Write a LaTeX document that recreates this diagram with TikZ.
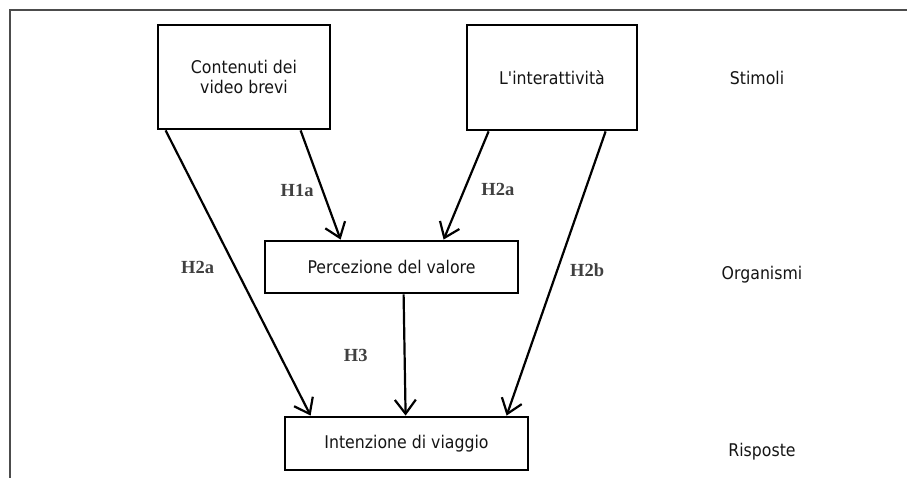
\documentclass[tikz,border=0pt]{standalone}
\usepackage{fontspec}
\usepackage{tikz}
\usetikzlibrary{arrows.meta,positioning,calc}
\newfontfamily\boxfont[FakeStretch=0.9]{DejaVu Sans}
\newfontfamily\hypfont{Liberation Serif}

\tikzset{
    varbox/.style={draw=black, line width=2.8pt, inner sep=0pt, align=center,
        text=black!92, font=\boxfont\fontsize{17.5}{20}\selectfont},
    hyp/.style={-{Straight Barb[length=14pt,width=21pt,line width=2.2pt]}, line width=2.2pt},
    hlabel/.style={inner sep=0pt, text=black!75, font=\hypfont\bfseries\fontsize{18.5}{22}\selectfont},
    level/.style={inner sep=0pt, text=black!92, font=\boxfont\fontsize{17.5}{20}\selectfont}
}

\begin{document}
\begin{tikzpicture}[x=1pt,y=-1pt]
            \useasboundingbox (0,0) rectangle (907,478);
            % Frame
            \draw[gray!60!black, line width=1.3pt] (907,10) -- (10,10) -- (10,478);

            % Boxes
            \node[varbox, minimum width=172, minimum height=104] (contenuti) at (244,77) {Contenuti dei\\video brevi};
            \node[varbox, minimum width=170, minimum height=105] (interattivita) at (552,77.5) {L'interattività};
            \node[varbox, minimum width=253, minimum height=52] (percezione) at (391.5,267) {Percezione del valore};
            \node[varbox, minimum width=243, minimum height=53] (intenzione) at (406.5,443.5) {Intenzione di viaggio};

            % Levels
            \node[level] (stimoli) at (757,78) {Stimoli};
            \node[level] (organismi) at (762,275) {Organismi};
            \node[level] (risposte) at (762,452) {Risposte};

            % Hypotheses
            \draw[hyp] ([xshift=9]contenuti.south west) -- ([xshift=27]intenzione.north west)
                node[hlabel, pos=0.48, left=20pt] (h2a-left) {H2a};
            \draw[hyp] ([xshift=144]contenuti.south west) -- ([xshift=77]percezione.north west)
                node[hlabel, pos=0.55, left=8pt] (h1a) {H1a};
            \draw[hyp] ([xshift=23]interattivita.south west) -- ([xshift=180]percezione.north west)
                node[hlabel, pos=0.54, right=16pt] (h2a-right) {H2a};
            \draw[hyp] ([xshift=140]interattivita.south west) -- ([xshift=223]intenzione.north west)
                node[hlabel, pos=0.49, right=12pt] (h2b) {H2b};
            \draw[hyp] ([xshift=140]percezione.south west) -- ([xshift=122]intenzione.north west)
                node[hlabel, pos=0.5, left=36pt] (h3) {H3};

        \end{tikzpicture}
\end{document}
